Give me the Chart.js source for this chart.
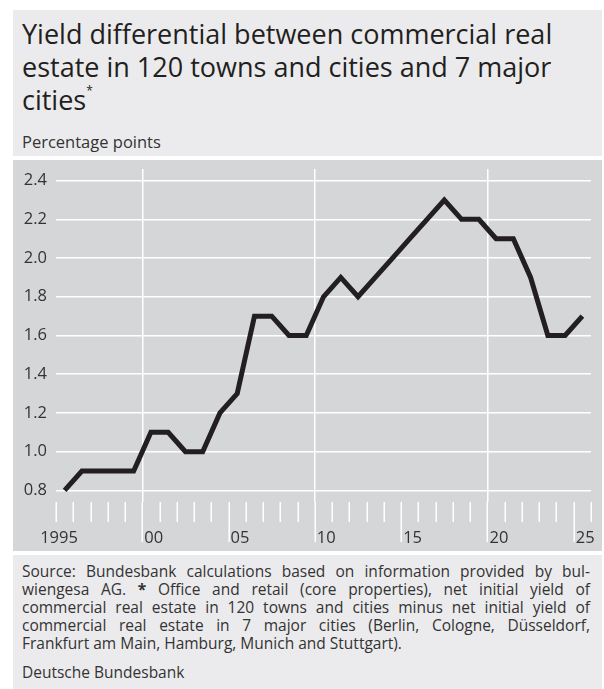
<!DOCTYPE html>
<html>
<head>
<meta charset="utf-8">
<script src="https://cdn.jsdelivr.net/npm/chart.js@4.4.1/dist/chart.umd.min.js"></script>
<style>
  body { margin: 0; background: #fff; font-family: "Open Sans", sans-serif; color: #231f20; }
  #head { position: absolute; left: 13px; top: 10px; width: 589px; height: 146px; background: #ebebed; }
  #title { position: absolute; left: 9px; top: 7px; width: 575px; font-size: 27px; line-height: 33px; }
  #title sup { font-size: 12px; vertical-align: 15px; line-height: 0; }
  #unit { position: absolute; left: 9px; top: 122px; font-size: 16.5px; line-height: 20px; color: #333; }
  #plot { position: absolute; left: 13px; top: 160px; width: 589px; height: 391px; background: #d5d6d8; }
  #plot canvas { display: block; }
  #foot { position: absolute; left: 13px; top: 555px; width: 589px; height: 134px; background: #ebebed; }
  #note { position: absolute; left: 9px; top: 7px; width: 568px; font-size: 15.5px; line-height: 18px; color: #333; }
  #note div { text-align: justify; text-align-last: justify; }
  #note div:last-child { text-align-last: left; }
  #brand { position: absolute; left: 9px; top: 108px; font-size: 15.5px; line-height: 18px; color: #333; }
</style>
</head>
<body>
<div id="head">
  <div id="title">Yield differential between commercial real estate in 120 towns and cities and 7 major cities<sup>*</sup></div>
  <div id="unit">Percentage points</div>
</div>
<div id="plot"><canvas id="myChart" width="589" height="391"></canvas></div>
<div id="foot">
  <div id="note">
    <div>Source: Bundesbank calculations based on information provided by bul-</div>
    <div>wiengesa AG. <b>*</b> Office and retail (core properties), net initial yield of</div>
    <div>commercial real estate in 120 towns and cities minus net initial yield of</div>
    <div>commercial real estate in 7 major cities (Berlin, Cologne, Düsseldorf,</div>
    <div>Frankfurt am Main, Hamburg, Munich and Stuttgart).</div>
  </div>
  <div id="brand">Deutsche Bundesbank</div>
</div>
<script>
// Daten (Jahreswerte, Prozentpunkte)
const years = [1995, 1996, 1997, 1998, 1999, 2000, 2001, 2002, 2003, 2004, 2005, 2006, 2007, 2008, 2009, 2010,
               2011, 2012, 2013, 2014, 2015, 2016, 2017, 2018, 2019, 2020, 2021, 2022, 2023, 2024, 2025];
const spread = [0.8, 0.9, 0.9, 0.9, 0.9, 1.1, 1.1, 1.0, 1.0, 1.2, 1.3, 1.7, 1.7, 1.6, 1.6, 1.8,
                1.9, 1.8, 1.9, 2.0, 2.1, 2.2, 2.3, 2.2, 2.2, 2.1, 2.1, 1.9, 1.6, 1.6, 1.7];
const yTicks = [0.8, 1.0, 1.2, 1.4, 1.6, 1.8, 2.0, 2.2, 2.4];
const labelYears = [1995, 2000, 2005, 2010, 2015, 2020, 2025];
const xLabels = ['1995', '00', '05', '10', '15', '20', '25'];
const gridYears = [2000, 2010, 2020];

// Jahresstriche und Beschriftung unter der Grafik
const yearTicks = {
    id: 'yearTicks',
    afterDraw(chart) {
        const { ctx, chartArea, scales: { x } } = chart;
        const base = chartArea.bottom;
        ctx.save();
        ctx.strokeStyle = '#fff';
        ctx.lineWidth = 1.5;
        for (let yr = x.min; yr <= x.max; yr++) {
            const px = Math.round(x.getPixelForValue(yr)) + 0.25;
            const long = labelYears.includes(yr) && yr !== 1995;
            ctx.beginPath();
            ctx.moveTo(px, base);
            ctx.lineTo(px, base + (long ? 40 : 20));
            ctx.stroke();
        }
        ctx.fillStyle = '#333';
        ctx.font = '16.5px "Open Sans"';
        ctx.textBaseline = 'alphabetic';
        labelYears.forEach((yr, i) => {
            const px = x.getPixelForValue(yr);
            if (i === 0) {
                ctx.textAlign = 'center';
                ctx.fillText(xLabels[i], px + 3, base + 41);
            } else {
                ctx.textAlign = 'left';
                ctx.fillText(xLabels[i], px + 2, base + 41);
            }
        });
        ctx.restore();
    }
};

const ctx = document.getElementById('myChart').getContext('2d');
new Chart(ctx, {
    type: 'line',
    data: {
        datasets: [{
            data: years.map((yr, i) => ({ x: yr + 0.5, y: spread[i] })),
            borderColor: '#231f20',
            borderWidth: 5,
            borderJoinStyle: 'miter',
            pointRadius: 0,
            tension: 0
        }]
    },
    options: {
        responsive: false,
        animation: false,
        layout: { autoPadding: false, padding: { top: 9, right: 11, left: 0, bottom: 0 } },
        plugins: { legend: { display: false }, tooltip: { enabled: false } },
        scales: {
            x: {
                type: 'linear',
                min: 1995,
                max: 2026,
                afterBuildTicks: scale => { scale.ticks = gridYears.map(v => ({ value: v })); },
                afterFit: scale => { scale.height = 49; scale.paddingLeft = 0; scale.paddingRight = 0; },
                ticks: { display: false },
                grid: { color: '#fff', lineWidth: 1.5, drawTicks: false },
                border: { display: false }
            },
            y: {
                min: 0.74,
                max: 2.46,
                afterBuildTicks: scale => { scale.ticks = yTicks.map(v => ({ value: v })); },
                afterFit: scale => { scale.width = 43; scale.paddingTop = 0; scale.paddingBottom = 0; },
                ticks: {
                    color: '#333',
                    font: { family: 'Open Sans', size: 16.5 },
                    padding: 9,
                    callback: v => v.toFixed(1)
                },
                grid: { color: '#fff', lineWidth: 1.5, drawTicks: false },
                border: { display: false }
            }
        }
    },
    plugins: [yearTicks]
});
</script>
</body>
</html>
